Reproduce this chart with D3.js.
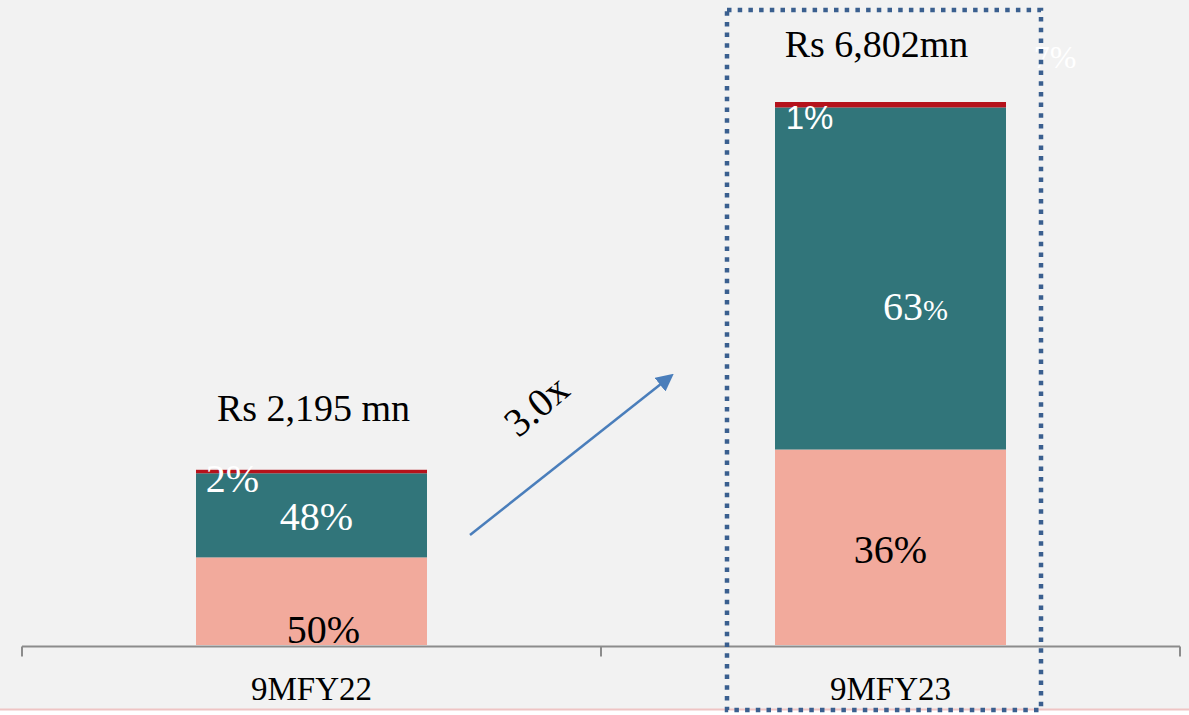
<!DOCTYPE html>
<html>
<head>
<meta charset="utf-8">
<script src="https://cdn.jsdelivr.net/npm/d3@7"></script>
<style>
  body { margin: 0; background: #ffffff; }
  svg text { font-family: "Liberation Serif", "Times New Roman", serif; }
</style>
</head>
<body>
<div id="chart"></div>
<script>
// categories and totals
var categories = ["9MFY22", "9MFY23"];
var totals = [2195, 6802];
var totalLabels = ["Rs 2,195 mn", "Rs 6,802mn"];

// share of each segment (%), bottom to top
var seriesNames = ["Segment A", "Segment B", "Segment C"];
var shareA = [50, 36];
var shareB = [48, 63];
var shareC = [2, 1];

var growthLabel = "3.0x";
var strayLabel = "7%";

var svgWidth = 1189, svgHeight = 715;
var colors = { "Segment A": "#f2aa9c", "Segment B": "#31757a", "Segment C": "#b5121b" };
var labelColors = { "Segment A": "#000000", "Segment B": "#ffffff", "Segment C": "#ffffff" };

var svg = d3.select("#chart").append("svg")
    .attr("width", svgWidth)
    .attr("height", svgHeight);

// background + thin pink rule at bottom
svg.append("rect").attr("width", svgWidth).attr("height", 709).attr("fill", "#f2f2f2");
svg.append("line").attr("x1", 0).attr("x2", svgWidth).attr("y1", 709.5).attr("y2", 709.5)
    .attr("stroke", "#efc4c4").attr("stroke-width", 2);

// build table for the stack
var table = categories.map(function(c, i) {
    return {
        category: c,
        "Segment A": totals[i] * shareA[i] / 100,
        "Segment B": totals[i] * shareB[i] / 100,
        "Segment C": totals[i] * shareC[i] / 100,
        shares: { "Segment A": shareA[i], "Segment B": shareB[i], "Segment C": shareC[i] }
    };
});

var x = d3.scaleBand().domain(categories).range([22, 1180]).paddingInner(0).paddingOuter(0);
var barWidth = 231;
var y = d3.scaleLinear().domain([0, d3.max(totals)]).range([645, 102]);

var stack = d3.stack().keys(seriesNames);
var layers = stack(table);

var barG = svg.append("g");
barG.selectAll("g")
    .data(layers)
    .enter()
    .append("g")
    .attr("fill", function(d) { return colors[d.key]; })
    .selectAll("rect")
    .data(function(d) { return d; })
    .enter()
    .append("rect")
    .attr("x", function(d) { return x(d.data.category) + (x.bandwidth() - barWidth) / 2; })
    .attr("y", function(d) { return y(d[1]); })
    .attr("width", barWidth)
    .attr("height", function(d) { return y(d[0]) - y(d[1]); });

// axis: line with ticks at the band boundaries
var axisY = 646.5;
svg.append("line").attr("x1", 22).attr("x2", 1180).attr("y1", axisY).attr("y2", axisY)
    .attr("stroke", "#8c8c8c").attr("stroke-width", 2);
var bounds = [x.range()[0]].concat(categories.map(function(c) { return x(c) + x.bandwidth(); }));
svg.selectAll(".tickmark").data(bounds).enter().append("line")
    .attr("class", "tickmark")
    .attr("x1", function(d) { return d; }).attr("x2", function(d) { return d; })
    .attr("y1", axisY).attr("y2", axisY + 10)
    .attr("stroke", "#8c8c8c").attr("stroke-width", 2);

var axis = d3.axisBottom(x).tickSize(0).tickPadding(0);
var axisG = svg.append("g").attr("transform", "translate(0," + axisY + ")").call(axis);
axisG.select(".domain").remove();
axisG.selectAll("text")
    .attr("y", 53).attr("dy", null)
    .style("font-family", "Liberation Serif, serif")
    .style("font-size", "33px")
    .attr("fill", "#000");

// segment labels: offsets from the segment centre [dx, dy], per series per category
var labelOffsets = {
    "Segment A": [[12, 42], [0, 16]],
    "Segment B": [[5, 15], [25, 42]],
    "Segment C": [[-79, 20], [-81, 24]]
};
var labelSizes = { "Segment A": 40, "Segment B": 40, "Segment C": 40 };

layers.forEach(function(layer) {
    layer.forEach(function(d, i) {
        var cx = x(d.data.category) + x.bandwidth() / 2;
        var cy = (y(d[0]) + y(d[1])) / 2;
        var off = labelOffsets[layer.key][i];
        var t = svg.append("text")
            .attr("x", cx + off[0])
            .attr("y", cy + off[1])
            .attr("text-anchor", "middle")
            .attr("fill", labelColors[layer.key])
            .style("font-size", labelSizes[layer.key] + "px");
        var share = d.data.shares[layer.key];
        if (layer.key === "Segment B" && i === 1) {
            t.append("tspan").text(share);
            t.append("tspan").style("font-size", "30px").text("%");
        } else if (layer.key === "Segment C" && i === 1) {
            t.style("font-family", "Liberation Sans, sans-serif").style("font-size", "33px").text(share + "%");
        } else {
            t.text(share + "%");
        }
    });
});

// total labels above bars
var totalDy = [-49, -45];
var totalDx = [2, -14];
svg.selectAll(".total").data(table).enter().append("text")
    .attr("class", "total")
    .attr("x", function(d, i) { return x(d.category) + x.bandwidth() / 2 + totalDx[i]; })
    .attr("y", function(d, i) { return y(totals[i]) + totalDy[i]; })
    .attr("text-anchor", "middle")
    .style("font-size", "38px")
    .attr("fill", "#000")
    .text(function(d, i) { return totalLabels[i]; });

// stray faint label at top right
svg.append("text")
    .attr("x", 1055).attr("y", 68)
    .attr("text-anchor", "middle")
    .style("font-size", "32px")
    .attr("fill", "#ffffff")
    .text(strayLabel);

// dotted highlight box around the second bar
svg.append("rect")
    .attr("x", 727).attr("y", 10)
    .attr("width", 314).attr("height", 700)
    .attr("fill", "none")
    .attr("stroke", "#3a5f8f")
    .attr("stroke-width", 4.5)
    .attr("stroke-dasharray", "4.5 6.2");

// growth arrow
var defs = svg.append("defs");
defs.append("marker")
    .attr("id", "arrow")
    .attr("viewBox", "0 0 10 10")
    .attr("refX", 8).attr("refY", 5)
    .attr("markerWidth", 7).attr("markerHeight", 7)
    .attr("markerUnits", "strokeWidth")
    .attr("orient", "auto")
    .append("path")
    .attr("d", "M0,0 L10,5 L0,10 z")
    .attr("fill", "#4a7ebb");

svg.append("line")
    .attr("x1", 470).attr("y1", 535)
    .attr("x2", 671).attr("y2", 376)
    .attr("stroke", "#4a7ebb")
    .attr("stroke-width", 2.5)
    .attr("marker-end", "url(#arrow)");

svg.append("text")
    .attr("transform", "translate(545,416) rotate(-40)")
    .attr("text-anchor", "middle")
    .style("font-size", "40px")
    .attr("fill", "#000")
    .text(growthLabel);
</script>
</body>
</html>
